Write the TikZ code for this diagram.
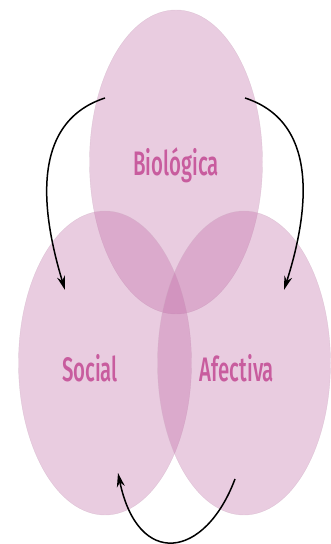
\documentclass[tikz,border=0pt]{standalone}
\usepackage{fontspec}
\setmainfont{Fira Sans}[FakeStretch=0.6, UprightFont=* Medium]
\usepackage{xcolor}
\usetikzlibrary{arrows.meta, positioning, calc, shapes.geometric}

\definecolor{petal}{RGB}{193,108,167}
\definecolor{rim}{RGB}{205,175,195}
\definecolor{labelpink}{RGB}{200,92,158}

\begin{document}
\begin{tikzpicture}[x=1pt, y=1pt,
    blob/.style={ellipse, minimum width=173pt, minimum height=304pt, inner sep=0pt,
        fill=petal, fill opacity=0.35, draw=rim, draw opacity=0.5, line width=0.4pt},
    word/.style={text=labelpink, font=\fontsize{34}{34}\selectfont, inner sep=0pt},
    cycle/.style={-{Stealth[length=14pt, width=8pt]}, line width=1.5pt, black}]
    \useasboundingbox (0,0) rectangle (331,544);
    % the three spheres
    \node[blob] (bio) at (176,382) {};
    \node[blob] (soc) at (105,181) {};
    \node[blob] (afe) at (244,181) {};
    \node[word] (biot) at (176,379) {Biológica};
    \node[word] (soct) at (90,176) {Social};
    \node[word] (afet) at (237,176) {Afectiva};
    % arrow ends
    \coordinate (b1) at (105,446);
    \coordinate (b2) at (245,446);
    \coordinate (s1) at (65,254);
    \coordinate (a1) at (284,254);
    \coordinate (a2) at (235,65);
    \coordinate (s2) at (118,71);
    \draw[cycle] (b1) .. controls (25,420) and (45,320) .. (s1);
    \draw[cycle] (b2) .. controls (325,420) and (305,320) .. (a1);
    \draw[cycle] (a2) .. controls (205,-15) and (138,-25) .. (s2);
\end{tikzpicture}
\end{document}
